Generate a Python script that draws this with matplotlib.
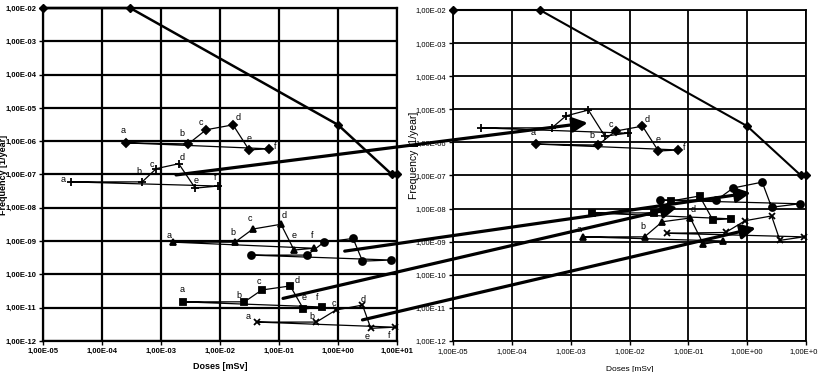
import matplotlib
matplotlib.use('Agg')
import matplotlib.pyplot as plt
from matplotlib.patches import ConnectionPatch
from matplotlib.ticker import FixedLocator, NullLocator

plt.rcParams['font.family'] = ['Liberation Sans', 'DejaVu Sans']

# ---- data -------------------------------------------------------------
x_ticks = [1e-5, 1e-4, 1e-3, 1e-2, 1e-1, 1e0, 1e1]
x_tick_labels = ['1,00E-05', '1,00E-04', '1,00E-03', '1,00E-02', '1,00E-01', '1,00E+00', '1,00E+01']
y_ticks = [1e-2, 1e-3, 1e-4, 1e-5, 1e-6, 1e-7, 1e-8, 1e-9, 1e-10, 1e-11, 1e-12]
y_tick_labels = ['1,00E-02', '1,00E-03', '1,00E-04', '1,00E-05', '1,00E-06', '1,00E-07',
                 '1,00E-08', '1,00E-09', '1,00E-10', '1,00E-11', '1,00E-12']
letters = ['a', 'b', 'c', 'd', 'e', 'f']

# reference (limit) curve, same in both panels
limit_x = [1e-5, 3e-4, 1.0, 8.2, 10.0]
limit_y = [1e-2, 1e-2, 3.1e-6, 1e-7, 1e-7]

# doses are the same in both panels
dia_x = [2.6e-4, 2.9e-3, 5.8e-3, 1.66e-2, 3.1e-2, 6.8e-2]
plus_x = [3.0e-5, 4.8e-4, 8.3e-4, 2.0e-3, 3.8e-3, 9.3e-3]
tri_x = [1.6e-3, 1.8e-2, 3.6e-2, 0.108, 0.18, 0.39]
circ_x = [3.3e-2, 0.30, 0.58, 1.8, 2.6, 7.9]
sq_x = [2.35e-3, 2.6e-2, 5.1e-2, 0.155, 0.26, 0.54]
cross_x = [4.3e-2, 0.43, 0.92, 2.6, 3.6, 9.2]

# frequencies, left panel
dia_y = [8.9e-7, 8.3e-7, 2.2e-6, 3.1e-6, 5.5e-7, 5.9e-7]
plus_y = [6.0e-8, 6.0e-8, 1.5e-7, 2.1e-7, 3.9e-8, 4.5e-8]
tri_y = [9.3e-10, 9.3e-10, 2.3e-9, 3.2e-9, 5.4e-10, 6.1e-10]
circ_y = [3.8e-10, 3.8e-10, 9.3e-10, 1.2e-9, 2.5e-10, 2.7e-10]
sq_y = [1.5e-11, 1.5e-11, 3.4e-11, 4.5e-11, 9.1e-12, 1.05e-11]
cross_y = [3.7e-12, 3.7e-12, 8.5e-12, 1.2e-11, 2.4e-12, 2.6e-12]

# frequencies, right panel
dia_y_r = [8.9e-7, 8.3e-7, 2.2e-6, 3.1e-6, 5.5e-7, 5.9e-7]
plus_y_r = [2.75e-6, 2.75e-6, 6.3e-6, 9.5e-6, 1.55e-6, 1.9e-6]
tri_y_r = [1.4e-9, 1.4e-9, 4.0e-9, 5.2e-9, 8.5e-10, 1.05e-9]
circ_y_r = [1.8e-8, 1.8e-8, 4.2e-8, 6.3e-8, 1.1e-8, 1.4e-8]
sq_y_r = [7.4e-9, 7.4e-9, 1.7e-8, 2.4e-8, 4.6e-9, 4.9e-9]
cross_y_r = [1.8e-9, 1.9e-9, 4.3e-9, 6.0e-9, 1.1e-9, 1.4e-9]

# arrows: start (dose, freq) on left panel -> end (dose, freq) on right panel
arrow_start = [(1.8e-3, 9.7e-8), (1.3, 5.0e-10), (0.117, 1.9e-11), (2.6, 4.3e-12)]
arrow_end = [(1.95e-3, 3.9e-6), (1.15, 3.0e-8), (6.5e-2, 1.1e-8), (1.4, 2.6e-9)]

# ---- label offsets (pixels) ------------------------------------------
off_dia = [(-3, 12), (-6, 10), (-5, 7), (5, 7), (0, 11), (6, 2)]
off_plus = [(-8, 2), (-3, 10), (-4, 4), (3, 6), (1, 8), (-3, 9)]
off_tri = [(-4, 7), (-2, 10), (-3, 11), (3, 9), (0, 15), (-2, 13)]
off_sq = [(-1, 12), (-6, 6), (-3, 9), (7, 5), (1, 12), (-5, 9)]
off_cross = [(-9, 6), (-4, 6), (-2, 7), (1, 6), (-4, -8), (-6, -8)]

fig = plt.figure(figsize=(8.18, 3.72), dpi=100)
ax1 = fig.add_axes([43 / 818, 1 - 341 / 372, 354 / 818, 333 / 372])
ax2 = fig.add_axes([453 / 818, 1 - 341 / 372, 353 / 818, 331 / 372])


def setup(ax, bold, grid_lw):
    ax.set_xscale('log')
    ax.set_yscale('log')
    ax.set_xlim(1e-5, 1e1)
    ax.set_ylim(1e-12, 1e-2)
    ax.xaxis.set_major_locator(FixedLocator(x_ticks))
    ax.yaxis.set_major_locator(FixedLocator(y_ticks))
    ax.xaxis.set_minor_locator(NullLocator())
    ax.yaxis.set_minor_locator(NullLocator())
    w = 'bold' if bold else 'normal'
    ax.set_xticklabels(x_tick_labels, fontsize=5.5, fontweight=w)
    ax.set_yticklabels(y_tick_labels, fontsize=5.5, fontweight=w)
    ax.tick_params(length=3, width=1, pad=2, color='black')
    ax.grid(True, color='black', lw=grid_lw)
    for s in ax.spines.values():
        s.set_linewidth(grid_lw)
        s.set_color('black')
    ax.set_axisbelow(True)


setup(ax1, True, 1.6)
setup(ax2, False, 1.3)

ax1.set_xlabel('Doses [mSv]', fontsize=6.5, fontweight='bold', labelpad=5)
ax1.set_ylabel('Frequency [1/year]', fontsize=6.5, fontweight='bold')
ax1.yaxis.set_label_coords(-0.098, 0.5)
ax2.set_xlabel('Doses [mSv]', fontsize=6, labelpad=8)
ax2.set_ylabel('Frequency [1/year]', fontsize=7.5)
ax2.yaxis.set_label_coords(-0.095, 0.56)


def series(ax, xs, ys, marker, ms, offsets=None, n_labels=6):
    # a -> f and back to a
    ax.plot(list(xs) + [xs[0]], list(ys) + [ys[0]], color='black', lw=0.9, zorder=3)
    ax.plot(xs, ys, ls='none', marker=marker, ms=ms, color='black', mec='black',
            mew=1.3, zorder=4, clip_on=False)
    if offsets is not None:
        for i in range(n_labels):
            ax.annotate(letters[i], (xs[i], ys[i]), xytext=offsets[i], textcoords='offset pixels',
                        ha='center', va='center', fontsize=6.5, zorder=5)


for ax, lw in [(ax1, 1.8), (ax2, 1.5)]:
    ax.plot(limit_x, limit_y, color='black', lw=lw, marker='D', ms=4.5, zorder=4, clip_on=False)

series(ax1, dia_x, dia_y, 'D', 4.2, off_dia)
series(ax1, plus_x, plus_y, '+', 6, off_plus)
series(ax1, tri_x, tri_y, '^', 4.5, off_tri)
series(ax1, circ_x, circ_y, 'o', 5)
series(ax1, sq_x, sq_y, 's', 5, off_sq)
series(ax1, cross_x, cross_y, 'x', 4.5, off_cross)

series(ax2, dia_x, dia_y_r, 'D', 4.2, off_dia)
series(ax2, plus_x, plus_y_r, '+', 6)
series(ax2, tri_x, tri_y_r, '^', 4.5, off_tri, n_labels=4)
series(ax2, circ_x, circ_y_r, 'o', 5)
series(ax2, sq_x, sq_y_r, 's', 5)
series(ax2, cross_x, cross_y_r, 'x', 4.5)

for st, en in zip(arrow_start, arrow_end):
    con = ConnectionPatch(xyA=st, coordsA=ax1.transData, xyB=en, coordsB=ax2.transData,
                          arrowstyle='-|>,head_length=0.6,head_width=0.3', mutation_scale=15,
                          lw=2.3, color='black', zorder=10)
    fig.add_artist(con)

fig.savefig('out.png', dpi=100)
